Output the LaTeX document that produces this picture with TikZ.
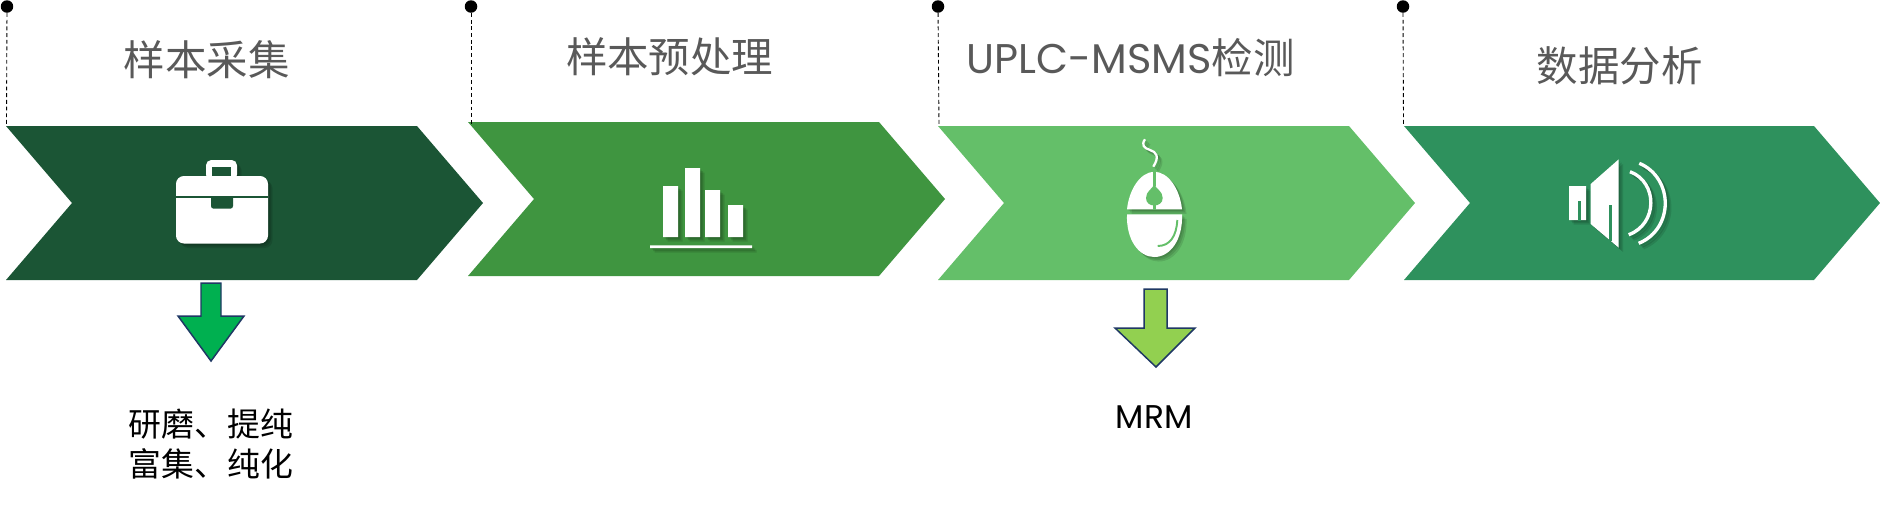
\documentclass[tikz,border=0pt]{standalone}
\usepackage{fontspec}
\setmainfont{Noto Sans CJK SC}
\newfontfamily\latinfont{Poppins}
\definecolor{barA}{HTML}{1B5535}
\definecolor{barB}{HTML}{3F9540}
\definecolor{barC}{HTML}{64BF69}
\definecolor{barD}{HTML}{2E915D}
\definecolor{titlegray}{HTML}{595959}
\definecolor{arrowedge}{HTML}{1F3864}
\tikzset{
  dotmark/.style={circle,fill=black,inner sep=0pt,minimum size=0.25cm},
  leader/.style={line width=0.5pt,dash pattern=on 2.2pt off 1.6pt},
  titlelabel/.style={text=titlegray,font=\fontsize{23.6pt}{28pt}\selectfont,inner sep=0pt},
  notelabel/.style={text=black,font=\fontsize{18.7pt}{22.8pt}\selectfont,align=center,inner sep=0pt},
  downarrow/.style={draw=arrowedge,line width=0.85pt,line join=miter},
}
% shadow under the white icons
\newcommand{\softcast}[2][fill=black]{
  \path[#1,opacity=.11,shift={(1.5,1.5)}] #2;
  \path[#1,opacity=.11,shift={(3,3)}] #2;
  \path[#1,opacity=.11,shift={(4.5,4.5)}] #2;
}
\newcommand{\caseshape}{[rounded corners=4.5pt] (176,243.5) -- (176,176) -- (268,176) -- (268,243.5) -- cycle [rounded corners=3pt] (206,180) -- (206,160) -- (237,160) -- (237,180) -- cycle}
\newcommand{\barshape}{(663,186) rectangle (678,237) (685,168) rectangle (700,237) (705,190) rectangle (720,237) (728,205) rectangle (743,237) (650,245.3) rectangle (752,248)}
\newcommand{\mouseshape}{(1127,209.3) .. controls (1129,190) and (1140,172) .. (1154.3,171.7) .. controls (1169,172) and (1180,190) .. (1182,209.3) -- cycle (1127,214.3) -- (1182,214.3) .. controls (1183,240) and (1170,257) .. (1154.3,257) .. controls (1139,257) and (1126,240) .. (1127,214.3) -- cycle}
\newcommand{\cableshape}{(1153.3,166.7) .. controls (1160,156) and (1156,152) .. (1150,150) .. controls (1144,148) and (1141,145) .. (1145,139.3)}
\newcommand{\speakershape}{(1569,186) rectangle (1586,220) (1590.7,184) -- (1618.7,159.3) -- (1618.7,247.7) -- (1590.7,224) -- cycle}
\newcommand{\wavein}{(1630,171.7) .. controls (1658,182) and (1658,224) .. (1628.7,234.7)}
\newcommand{\waveout}{(1639.3,163.3) .. controls (1674,178) and (1674,229) .. (1638.7,243.3)}

\begin{document}
\begin{tikzpicture}[x=0.02cm,y=-0.02cm]
\useasboundingbox (0,0) rectangle (1880,505);

% chevrons
\fill[barA] (6,126) -- (417,126) -- (483,203) -- (417,280) -- (6,280) -- (72,203) -- cycle;
\fill[barB] (468,122) -- (879,122) -- (945,199) -- (879,276) -- (468,276) -- (534,199) -- cycle;
\fill[barC] (938,126) -- (1349,126) -- (1415,203) -- (1349,280) -- (938,280) -- (1004,203) -- cycle;
\fill[barD] (1404,126) -- (1814,126) -- (1880,203) -- (1814,280) -- (1404,280) -- (1470,203) -- cycle;

% dots and leaders
\node[dotmark] (dotA) at (7,6.5) {};
\node[dotmark] (dotB) at (471,6.5) {};
\node[dotmark] (dotC) at (938,6.5) {};
\node[dotmark] (dotD) at (1403,6.5) {};
\coordinate (footA) at (6.5,126);
\coordinate (footB) at (471,126);
\coordinate (footC) at (939,126);
\coordinate (footD) at (1403.5,126);
\draw[leader] (dotA) -- (footA);
\draw[leader] (dotB) -- (footB);
\draw[leader] (dotC) -- (footC);
\draw[leader] (dotD) -- (footD);

% titles
\node[titlelabel] (titleA) at (206.7,60) {样本采集};
\node[titlelabel] (titleB) at (669.7,56.7) {样本预处理};
\node[titlelabel] (titleC) at (1130.8,58) {{\latinfont UPLC-MSMS}检测};
\node[titlelabel] (titleD) at (1619.7,65.8) {数据分析};

% briefcase
\softcast{\caseshape}
\fill[white] \caseshape;
\fill[barA] (212.3,166.7) rectangle (230.7,176);
\fill[barA] (176,196) rectangle (268,197.8);
\fill[barA] (211,196) [rounded corners=1.5pt] -- (211,208.7) -- (233,208.7) [sharp corners] -- (233,196) -- cycle;

% bars
\softcast{\barshape}
\fill[white] \barshape;

% mouse
\softcast{\mouseshape}
\softcast[draw=black,line width=1.3pt]{\cableshape}
\fill[white] \mouseshape;
\draw[white,line width=1.3pt] \cableshape;
\fill[barC] (1154.3,184.3) .. controls (1156,189) and (1162.7,191) .. (1162.7,198) .. controls (1162.7,203) and (1158.5,205.5) .. (1154.3,205.5) .. controls (1150,205.5) and (1146,203) .. (1146,198) .. controls (1146,191) and (1152.5,189) .. cycle;
\fill[barC] (1152.8,170) rectangle (1155.8,186);
\fill[barC] (1152.8,203) rectangle (1155.8,210);
\draw[barC,line width=1.1pt] (1177.3,220) .. controls (1176.5,236) and (1170,246) .. (1157.7,246);

% speaker
\softcast{\speakershape}
\softcast[draw=black,line width=1.9pt]{\wavein}
\softcast[draw=black,line width=1.9pt]{\waveout}
\fill[white] \speakershape;
\fill[barD] (1578,201.3) rectangle (1581.3,220.5);
\fill[barD] (1609,205) rectangle (1611.7,240.5);
\draw[white,line width=1.9pt] \wavein;
\draw[white,line width=1.9pt] \waveout;

% down arrows
\draw[downarrow,fill={rgb,255:red,0;green,176;blue,80}] (201,283) -- (221,283) -- (221,316) -- (244,316) -- (211,361) -- (178,316) -- (201,316) -- cycle;
\draw[downarrow,fill={rgb,255:red,146;green,208;blue,80}] (1144,289) -- (1167,289) -- (1167,328) -- (1195,328) -- (1156,367) -- (1115,328) -- (1144,328) -- cycle;

% notes
\node[notelabel] (noteA) at (211,444) {研磨、提纯\\富集、纯化};
\node[notelabel] (noteC) at (1154,417) {{\latinfont MRM}};
\end{tikzpicture}
\end{document}
